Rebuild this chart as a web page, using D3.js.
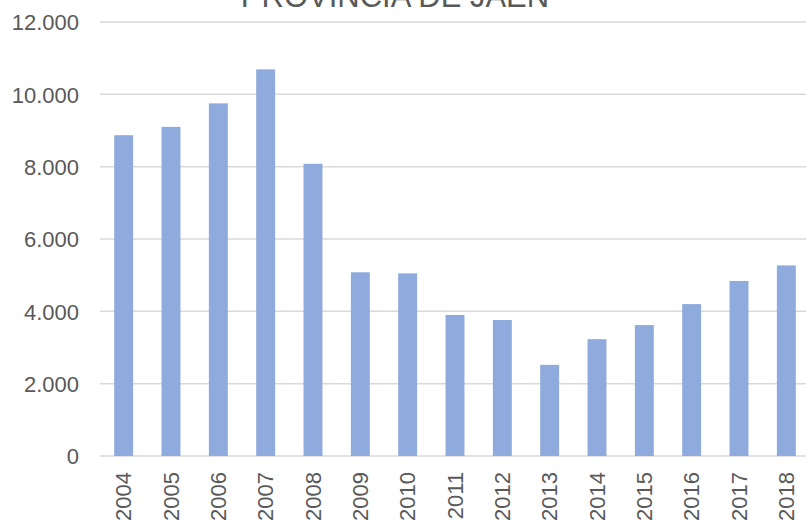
<!DOCTYPE html>
<html>
<head>
<meta charset="utf-8">
<script src="https://cdn.jsdelivr.net/npm/d3@7"></script>
<style>
  body { margin: 0; background: #fff; }
  svg { display: block; font-family: "Liberation Sans", Arial, sans-serif; }
  .grid line { stroke: #d9d9d9; stroke-width: 1.5; }
  .axis text { fill: #595959; font-size: 22px; }
</style>
</head>
<body>
<div id="chart"></div>
<script>
var years = ["2004", "2005", "2006", "2007", "2008", "2009", "2010", "2011",
             "2012", "2013", "2014", "2015", "2016", "2017", "2018"];
var values = [8870, 9100, 9750, 10690, 8080, 5080, 5050, 3900,
              3760, 2520, 3230, 3620, 4200, 4840, 5270];
var yTicks = [0, 2000, 4000, 6000, 8000, 10000, 12000];
var title = "PROVINCIA DE JAÉN";

var width = 806, height = 520;
var plotLeft = 100, plotRight = 810, plotTop = 22, plotBottom = 456;

var svg = d3.select("#chart").append("svg")
    .attr("width", width)
    .attr("height", height);

var x = d3.scaleBand()
    .domain(years)
    .range([plotLeft, plotRight])
    .paddingInner(0.6)
    .paddingOuter(0.3);

var y = d3.scaleLinear()
    .domain([0, 12000])
    .range([plotBottom, plotTop]);

var fmt = function(d) { return d3.format(",")(d).replace(/,/g, "."); };

// gridlines
svg.append("g")
    .attr("class", "grid")
    .selectAll("line")
    .data(yTicks)
    .enter().append("line")
    .attr("x1", plotLeft)
    .attr("x2", plotRight)
    .attr("y1", function(d) { return y(d); })
    .attr("y2", function(d) { return y(d); });

// bars
svg.append("g")
    .selectAll("rect")
    .data(values)
    .enter().append("rect")
    .attr("x", function(d, i) { return x(years[i]); })
    .attr("width", x.bandwidth())
    .attr("y", function(d) { return y(d); })
    .attr("height", function(d) { return plotBottom - y(d); })
    .attr("fill", "#8faadc");

// y axis labels
var yAxis = svg.append("g")
    .attr("class", "axis")
    .attr("transform", "translate(79,0)")
    .call(d3.axisLeft(y).tickValues(yTicks).tickFormat(fmt).tickSize(0).tickPadding(0));
yAxis.select(".domain").remove();
yAxis.selectAll("text").attr("dy", "0.36em");

// x axis labels
svg.append("g")
    .attr("class", "axis")
    .selectAll("text")
    .data(years)
    .enter().append("text")
    .attr("transform", function(d) {
      return "translate(" + (x(d) + x.bandwidth() / 2) + ",472) rotate(-90)";
    })
    .attr("text-anchor", "end")
    .attr("dy", "0.35em")
    .text(function(d) { return d; });

// title (cut off at top)
svg.append("text")
    .attr("x", 395)
    .attr("y", 7)
    .attr("text-anchor", "middle")
    .attr("fill", "#595959")
    .style("font-size", "31px")
    .text(title);
</script>
</body>
</html>
